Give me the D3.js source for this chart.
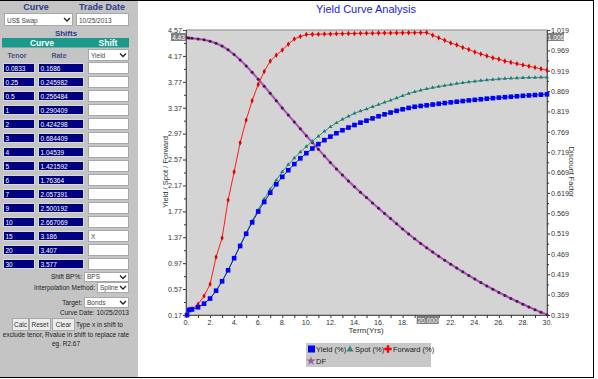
<!DOCTYPE html>
<html>
<head>
<meta charset="utf-8">
<script src="https://cdn.jsdelivr.net/npm/d3@7"></script>
<style>
body { margin: 0; background: #fff; }
svg { display: block; font-family: "Liberation Sans", Arial, sans-serif; }
</style>
</head>
<body>
<script>
// curve inputs (left panel)
var tenors = ["0.0833", "0.25", "0.5", "1", "2", "3", "4", "5", "6", "7", "9", "10", "15", "20", "30"];
var rates = ["0.1686", "0.245982", "0.256484", "0.290409", "0.424298", "0.684409", "1.04539", "1.421592",
  "1.76364", "2.057391", "2.500192", "2.667069", "3.186", "3.407", "3.577"];
var shifts = ["", "", "", "", "", "", "", "", "", "", "", "", "X", "", ""];

// chart series, one value per term
var terms = [0.0833, 0.25, 0.5, 1, 1.5, 2, 2.5, 3, 3.5, 4, 4.5, 5, 5.5, 6, 6.5, 7, 7.5, 8, 8.5, 9, 9.5, 10,
  10.5, 11, 11.5, 12, 12.5, 13, 13.5, 14, 14.5, 15, 15.5, 16, 16.5, 17, 17.5, 18, 18.5, 19, 19.5, 20,
  20.5, 21, 21.5, 22, 22.5, 23, 23.5, 24, 24.5, 25, 25.5, 26, 26.5, 27, 27.5, 28, 28.5, 29, 29.5, 30];
var yieldVals = [0.169, 0.246, 0.256, 0.290, 0.345, 0.424, 0.545, 0.690, 0.860, 1.047, 1.235, 1.424,
  1.600, 1.767, 1.915, 2.058, 2.188, 2.303, 2.405, 2.500, 2.588, 2.668, 2.740, 2.808, 2.869, 2.924,
  2.976, 3.022, 3.064, 3.103, 3.140, 3.170, 3.205, 3.238, 3.268, 3.296, 3.322, 3.346, 3.367, 3.385,
  3.397, 3.407, 3.419, 3.431, 3.442, 3.453, 3.463, 3.473, 3.483, 3.492, 3.501, 3.510, 3.518, 3.526,
  3.533, 3.540, 3.547, 3.554, 3.560, 3.566, 3.572, 3.577];
var spotVals = [0.169, 0.246, 0.256, 0.290, 0.345, 0.425, 0.542, 0.688, 0.866, 1.054, 1.248, 1.440,
  1.622, 1.795, 1.958, 2.110, 2.250, 2.380, 2.492, 2.592, 2.685, 2.770, 2.852, 2.930, 3.005, 3.075,
  3.135, 3.190, 3.238, 3.282, 3.320, 3.350, 3.385, 3.418, 3.452, 3.485, 3.520, 3.555, 3.588, 3.615,
  3.640, 3.660, 3.680, 3.697, 3.713, 3.728, 3.742, 3.755, 3.767, 3.778, 3.789, 3.798, 3.806, 3.813,
  3.819, 3.824, 3.828, 3.832, 3.835, 3.837, 3.839, 3.841];
var fwdVals = [0.169, 0.262, 0.267, 0.335, 0.463, 0.644, 1.065, 1.360, 1.945, 2.380, 2.830, 3.180,
  3.480, 3.730, 3.930, 4.090, 4.180, 4.260, 4.350, 4.430, 4.470, 4.500, 4.503, 4.505, 4.507, 4.509,
  4.511, 4.513, 4.515, 4.517, 4.519, 4.520, 4.521, 4.522, 4.523, 4.524, 4.525, 4.526, 4.527, 4.528,
  4.529, 4.530, 4.490, 4.450, 4.410, 4.370, 4.340, 4.300, 4.270, 4.230, 4.200, 4.170, 4.140, 4.120,
  4.090, 4.070, 4.050, 4.030, 4.010, 3.990, 3.970, 3.950];
var dfVals = [0.99986, 0.99939, 0.99872, 0.99710, 0.99484, 0.99155, 0.98656, 0.97961, 0.97021, 0.95882,
  0.94555, 0.93078, 0.91498, 0.89833, 0.88104, 0.86336, 0.84552, 0.82756, 0.81018, 0.79312, 0.77618,
  0.75951, 0.74281, 0.72618, 0.70964, 0.69337, 0.67785, 0.66271, 0.64816, 0.63398, 0.62037, 0.60754,
  0.59435, 0.58143, 0.56852, 0.55589, 0.54300, 0.53032, 0.51794, 0.50626, 0.49489, 0.48414, 0.47353,
  0.46334, 0.45340, 0.44370, 0.43423, 0.42501, 0.41602, 0.40728, 0.39867, 0.39039, 0.38235, 0.37454,
  0.36697, 0.35961, 0.35248, 0.34549, 0.33870, 0.33214, 0.32570, 0.31938];

var leftTicks = [0.17, 0.57, 0.97, 1.37, 1.77, 2.17, 2.57, 2.97, 3.37, 3.77, 4.17, 4.57];
var rightTicks = [0.319, 0.369, 0.419, 0.469, 0.519, 0.569, 0.619, 0.669, 0.719, 0.769, 0.819, 0.869,
  0.919, 0.969, 1.019];
var xTicks = [0, 2, 4, 6, 8, 10, 12, 14, 16, 18, 20, 22, 24, 26, 28, 30];
var crossTerm = 20; // x crosshair sits on 20, its box hides that tick label

var svg = d3.select("body").append("svg").attr("width", 598).attr("height", 379);
svg.append("rect").attr("width", 598).attr("height", 379).attr("fill", "#fff");

// ---- left panel ----
svg.append("rect").attr("x", 0).attr("y", 1).attr("width", 138).attr("height", 376).attr("fill", "#c4c4c4");

function txt(x, y, s, size, color, anchor, weight) {
  return svg.append("text").attr("x", x).attr("y", y).text(s)
    .attr("font-size", size).attr("fill", color)
    .attr("text-anchor", anchor || "start").attr("font-weight", weight || "normal");
}
function selectBox(x, y, w, h, label) {
  svg.append("rect").attr("x", x + 0.5).attr("y", y + 0.5).attr("width", w).attr("height", h)
    .attr("fill", "#fff").attr("stroke", "#a8a8a8");
  txt(x + 3, y + h - 2.5, label, 6.5, "#444");
  var cx = x + w - 5, cy = y + h / 2 + 0.5;
  svg.append("path").attr("d", "M" + (cx - 3) + "," + (cy - 1.5) + "L" + cx + "," + (cy + 1.5) + "L" + (cx + 3) + "," + (cy - 1.5))
    .attr("fill", "none").attr("stroke", "#222").attr("stroke-width", 1.3);
}

var navyText = "#2c3c8a";
txt(36, 10, "Curve", 9, navyText, "middle", "bold");
txt(102, 10, "Trade Date", 9, navyText, "middle", "bold");
selectBox(4, 13, 68, 12, "US$ Swap");
svg.append("rect").attr("x", 76.5).attr("y", 13.5).attr("width", 52).attr("height", 12)
  .attr("fill", "#fff").attr("stroke", "#a8a8a8");
txt(79, 22.5, "10/25/2013", 6.5, "#444");
txt(66, 36, "Shifts", 8, navyText, "middle", "bold");
svg.append("rect").attr("x", 2).attr("y", 38).attr("width", 127).attr("height", 9.5).attr("fill", "#1a9a8a");
txt(42, 46, "Curve", 8.5, "#fff", "middle", "bold");
txt(108, 46, "Shift", 8.5, "#fff", "middle", "bold");
txt(17, 58, "Tenor", 7, "#46527a", "middle", "bold");
txt(59, 58, "Rate", 7, "#46527a", "middle", "bold");
selectBox(88, 49, 40, 11, "Yield");

tenors.forEach(function(t, i) {
  var y0 = 63 + 14 * i;
  svg.append("rect").attr("x", 3.5).attr("y", y0 + 0.5).attr("width", 31).attr("height", 9)
    .attr("fill", "#000080").attr("stroke", "#d8d8d8");
  txt(5.5, y0 + 7.5, t, 6.5, "#fff");
  svg.append("rect").attr("x", 38.5).attr("y", y0 + 0.5).attr("width", 45).attr("height", 9)
    .attr("fill", "#000080").attr("stroke", "#d8d8d8");
  txt(40.5, y0 + 7.5, rates[i], 6.5, "#fff");
  svg.append("rect").attr("x", 88.5).attr("y", y0 - 0.5).attr("width", 40).attr("height", 11)
    .attr("fill", "#fff").attr("stroke", "#a8a8a8");
  txt(91, y0 + 7.5, shifts[i], 6.5, "#444");
});

txt(82, 279, "Shift BP%:", 6.5, "#222", "end");
selectBox(84, 272, 44, 9, "BPS");
txt(95, 290, "Interpolation Method:", 6.5, "#222", "end");
selectBox(97, 282, 31, 10, "Spline");
txt(82, 305, "Target:", 6.5, "#222", "end");
selectBox(84, 297, 44, 10, "Bonds");
txt(129, 315, "Curve Date: 10/25/2013", 6.5, "#222", "end");
[["Calc", 12, 16], ["Reset", 29, 21], ["Clear", 52, 22]].forEach(function(b) {
  svg.append("rect").attr("x", b[1] + 0.5).attr("y", 318.5).attr("width", b[2]).attr("height", 12)
    .attr("fill", "#ececec").attr("stroke", "#a8a8a8");
  txt(b[1] + b[2] / 2 + 0.5, 327, b[0], 6.5, "#333", "middle");
});
txt(76, 327, "Type x in shift to", 6.5, "#222");
txt(66, 337, "exclude tenor, Rvalue in shift to replace rate", 6.5, "#222", "middle");
txt(66, 346, "eg. R2.67", 6.5, "#222", "middle");

// frame
svg.append("line").attr("x1", 0).attr("x2", 594).attr("y1", 0.5).attr("y2", 0.5).attr("stroke", "#000");
svg.append("line").attr("x1", 0).attr("x2", 594).attr("y1", 377.5).attr("y2", 377.5).attr("stroke", "#000");
svg.append("line").attr("x1", 593.5).attr("x2", 593.5).attr("y1", 0).attr("y2", 378).attr("stroke", "#000");

// ---- chart ----
var x = d3.scaleLinear().domain([0, 30]).range([186, 547]);
var yL = d3.scaleLinear().domain([0.17, 4.57]).range([315, 30]);
var yR = d3.scaleLinear().domain([0.319, 1.019]).range([315, 30]);

txt(366, 13, "Yield Curve Analysis", 11, "#1c1cd8", "middle");

svg.append("rect").attr("x", 186).attr("y", 30).attr("width", 361).attr("height", 285)
  .attr("fill", "#d4d4d4").attr("stroke", "#8a8a8a");

function midpoints(a) {
  return a.slice(1).map(function(v, i) { return (v + a[i]) / 2; });
}
function styleAxis(g) {
  g.attr("font-size", 7.2).attr("font-family", null);
  g.selectAll("text").attr("fill", "#333");
  g.selectAll("line").attr("stroke", "#333");
  g.select(".domain").attr("stroke", "#555");
}

var gl = svg.append("g").attr("transform", "translate(186,0)")
  .call(d3.axisLeft(yL).tickValues(leftTicks).tickSize(3).tickPadding(1).tickFormat(d3.format(".2f")));
styleAxis(gl);
svg.append("g").attr("transform", "translate(186,0)")
  .call(d3.axisLeft(yL).tickValues(midpoints(leftTicks)).tickSize(2).tickFormat(""))
  .call(styleAxis);

var gr = svg.append("g").attr("transform", "translate(547,0)")
  .call(d3.axisRight(yR).tickValues(rightTicks).tickSize(3).tickPadding(1).tickFormat(d3.format(".3f")));
styleAxis(gr);
svg.append("g").attr("transform", "translate(547,0)")
  .call(d3.axisRight(yR).tickValues(midpoints(rightTicks)).tickSize(2).tickFormat(""))
  .call(styleAxis);

var gx = svg.append("g").attr("transform", "translate(0,315)")
  .call(d3.axisBottom(x).tickValues(xTicks).tickSize(3).tickPadding(2)
    .tickFormat(function(d) { return d === crossTerm ? "" : d + "."; }));
styleAxis(gx);
svg.append("g").attr("transform", "translate(0,315)")
  .call(d3.axisBottom(x).tickValues(midpoints(xTicks)).tickSize(3).tickFormat(""))
  .call(styleAxis);

svg.append("text").attr("transform", "translate(168,172) rotate(-90)").attr("text-anchor", "middle")
  .attr("font-size", 7.5).attr("fill", "#333").text("Yield / Spot / Forward");
svg.append("text").attr("transform", "translate(569,172) rotate(90)").attr("text-anchor", "middle")
  .attr("font-size", 7.2).attr("fill", "#333").text("Discount Factor");
txt(366, 333, "Term(Yrs)", 8, "#333", "middle");

// series
function pairs(vals) { return terms.map(function(t, i) { return [t, vals[i]]; }); }
var lineL = d3.line().x(function(d) { return x(d[0]); }).y(function(d) { return yL(d[1]); });
var lineR = d3.line().x(function(d) { return x(d[0]); }).y(function(d) { return yR(d[1]); });

var dfData = pairs(dfVals);
svg.append("path").attr("d", lineR(dfData)).attr("fill", "none").attr("stroke", "#c47ad0").attr("stroke-width", 2.6);
svg.append("path").attr("d", lineR(dfData)).attr("fill", "none").attr("stroke", "#7a2e80").attr("stroke-width", 0.8);
svg.selectAll(".dfm").data(dfData).enter().append("circle")
  .attr("cx", function(d) { return x(d[0]); }).attr("cy", function(d) { return yR(d[1]); })
  .attr("r", 1.5).attr("fill", "#4a1848");

var fwdData = pairs(fwdVals);
svg.append("path").attr("d", lineL(fwdData)).attr("fill", "none").attr("stroke", "#ff1a1a").attr("stroke-width", 1);
svg.selectAll(".fm").data(fwdData).enter().append("path")
  .attr("transform", function(d) { return "translate(" + x(d[0]) + "," + yL(d[1]) + ")"; })
  .attr("d", d3.symbol().type(d3.symbolDiamond).size(9)).attr("fill", "#e00000");

var spotData = pairs(spotVals);
svg.append("path").attr("d", lineL(spotData)).attr("fill", "none").attr("stroke", "#2e8b84").attr("stroke-width", 1);
svg.selectAll(".sm").data(spotData).enter().append("path")
  .attr("transform", function(d) { return "translate(" + x(d[0]) + "," + yL(d[1]) + ")"; })
  .attr("d", d3.symbol().type(d3.symbolTriangle).size(7)).attr("fill", "#1e7a74");

var yieldData = pairs(yieldVals);
svg.append("path").attr("d", lineL(yieldData)).attr("fill", "none").attr("stroke", "#1528a8").attr("stroke-width", 1);
svg.selectAll(".ym").data(yieldData).enter().append("rect")
  .attr("x", function(d) { return x(d[0]) - 2.3; }).attr("y", function(d) { return yL(d[1]) - 2.3; })
  .attr("width", 4.6).attr("height", 4.6).attr("fill", "#0000ff");

// crosshair value boxes
function valueBox(bx, by, w, s) {
  svg.append("rect").attr("x", bx).attr("y", by).attr("width", w).attr("height", 8).attr("fill", "#808080");
  txt(bx + w / 2, by + 6.5, s, 6.5, "#fff", "middle");
}
valueBox(171, 33, 15, "4.43");
valueBox(548, 33, 16, "1.006");
valueBox(x(crossTerm) - 10, 316, 22, "20.000");

// legend
svg.append("rect").attr("x", 306).attr("y", 343).attr("width", 125).attr("height", 24).attr("fill", "#c8c8c8");
svg.append("rect").attr("x", 308).attr("y", 345.5).attr("width", 7).attr("height", 7).attr("fill", "#0000ff");
txt(316, 352, "Yield (%)", 7.5, "#222");
svg.append("path").attr("transform", "translate(350,349.5)").attr("d", d3.symbol().type(d3.symbolTriangle).size(22)).attr("fill", "#2e8b84");
txt(355, 352, "Spot (%)", 7.5, "#222");
svg.append("path").attr("transform", "translate(388,349)").attr("d", d3.symbol().type(d3.symbolCross).size(30)).attr("fill", "#ff0000");
txt(393, 352, "Forward (%)", 7.5, "#222");
svg.append("path").attr("transform", "translate(311,361)").attr("d", d3.symbol().type(d3.symbolStar).size(26)).attr("fill", "#9a5aa8");
txt(316, 364, "DF", 7.5, "#222");
</script>
</body>
</html>
